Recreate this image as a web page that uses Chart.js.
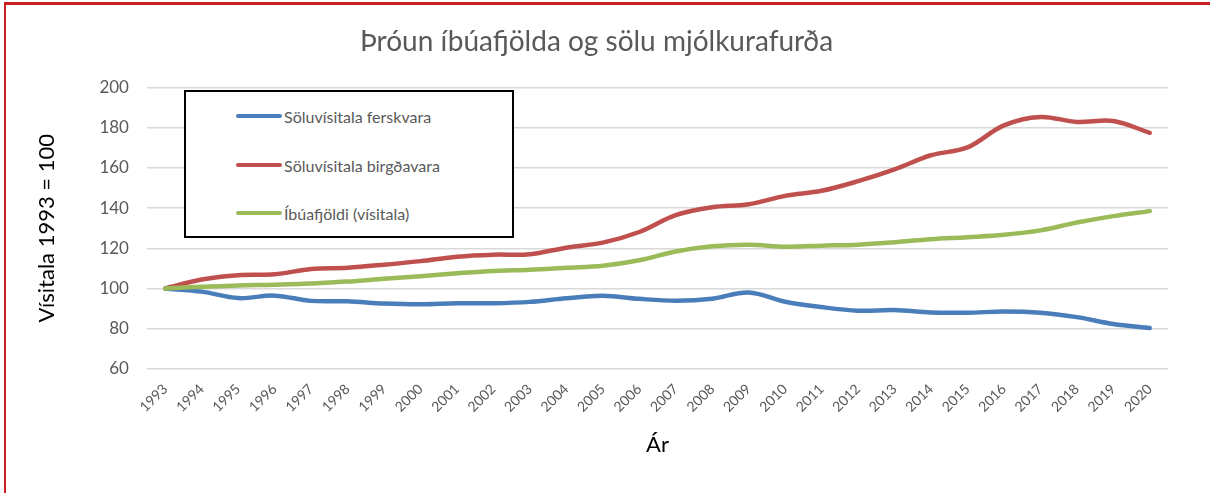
<!DOCTYPE html>
<html>
<head>
<meta charset="utf-8">
<script src="https://cdn.jsdelivr.net/npm/chart.js@4.4.0/dist/chart.umd.min.js"></script>
<style>
  html, body { margin: 0; padding: 0; background: #fff; }
  #wrap { position: relative; width: 1210px; height: 493px; overflow: hidden; }
  #frame { position: absolute; left: 4px; top: 2px; width: 1300px; height: 600px;
           border-top: 3px solid #cc1f1f; border-left: 2px solid #cc1f1f; pointer-events: none; }
  #legend { position: absolute; left: 184px; top: 90px; width: 326px; height: 144px;
            border: 2px solid #000; background: #fff; font-family: Lato, sans-serif; }
  .item { position: absolute; left: 50px; height: 20px; display: flex; align-items: center; }
  .swatch { width: 46px; height: 4px; border-radius: 2px; margin-right: 2px; }
  .item span { font-size: 16px; color: #595959; white-space: nowrap; }
</style>
</head>
<body>
<div id="wrap">
  <canvas id="chart" width="1210" height="493"></canvas>
  <div id="legend"></div>
  <div id="frame"></div>
</div>
<script>
const years = ['1993', '1994', '1995', '1996', '1997', '1998', '1999', '2000', '2001', '2002',
               '2003', '2004', '2005', '2006', '2007', '2008', '2009', '2010', '2011', '2012',
               '2013', '2014', '2015', '2016', '2017', '2018', '2019', '2020'];

// Söluvísitala ferskvara
const ferskvara = [100, 98.4, 95.2, 96.4, 93.8, 93.6, 92.5, 92.1, 92.6, 92.6,
                   93.3, 95.1, 96.3, 94.8, 93.9, 94.9, 98.0, 93.4, 90.7, 88.9,
                   89.2, 88.0, 87.9, 88.5, 87.9, 85.7, 82.3, 80.3];

// Söluvísitala birgðavara
const birgdavara = [100, 104.4, 106.6, 107.0, 109.7, 110.3, 111.8, 113.6, 115.8, 116.8,
                    117.0, 120.3, 122.8, 128.1, 136.5, 140.4, 141.9, 146.1, 148.6, 153.4,
                    159.3, 166.3, 170.2, 181.2, 185.4, 182.9, 183.4, 177.5];

// Íbúafjöldi (vísitala)
const ibuafjoldi = [100, 100.8, 101.5, 101.8, 102.5, 103.4, 104.8, 106.1, 107.5, 108.7,
                    109.3, 110.3, 111.3, 114.0, 118.4, 121.0, 121.8, 120.8, 121.3, 121.8,
                    123.0, 124.5, 125.5, 126.7, 128.9, 132.8, 136.0, 138.5];

const seriesLabels = ['Söluvísitala ferskvara', 'Söluvísitala birgðavara', 'Íbúafjöldi (vísitala)'];
const seriesColors = ['#4a7ebb', '#c0504d', '#9bbb59'];
const yTicks = [60, 80, 100, 120, 140, 160, 180, 200];

const grey = '#595959';

function line(i, values, order) {
    return {
        label: seriesLabels[i],
        data: values,
        borderColor: seriesColors[i],
        backgroundColor: seriesColors[i],
        borderWidth: 4.5,
        pointRadius: 0,
        tension: 0.35,
        borderCapStyle: 'round',
        order: order
    };
}

const chart = new Chart(document.getElementById('chart').getContext('2d'), {
    type: 'line',
    data: {
        labels: years,
        datasets: [
            line(0, ferskvara, 2),
            line(1, birgdavara, 1),
            line(2, ibuafjoldi, 0)
        ]
    },
    options: {
        responsive: false,
        animation: false,
        layout: { padding: { left: 25, right: 42, top: 25, bottom: 35 } },
        plugins: {
            legend: { display: false },
            tooltip: { enabled: false },
            title: {
                display: true,
                text: 'Þróun íbúafjölda og sölu mjólkurafurða',
                color: grey,
                font: { family: 'Lato', size: 28, weight: 'normal' },
                padding: { top: 0, bottom: 29 }
            }
        },
        scales: {
            x: {
                offset: true,
                grid: { display: false },
                border: { display: false },
                ticks: {
                    color: grey,
                    font: { family: 'Lato', size: 14 },
                    minRotation: 45,
                    maxRotation: 45,
                    padding: 4
                },
                title: {
                    display: true,
                    text: 'Ár',
                    color: '#000',
                    font: { family: 'Lato', size: 22 },
                    padding: { top: 12, bottom: 0 }
                }
            },
            y: {
                min: yTicks[0],
                max: yTicks[yTicks.length - 1],
                afterBuildTicks: function (axis) {
                    axis.ticks = yTicks.map(function (v) { return { value: v }; });
                },
                grid: { color: '#d9d9d9', lineWidth: 1.5, drawTicks: false },
                border: { display: false },
                ticks: {
                    color: grey,
                    font: { family: 'Lato', size: 17 },
                    padding: 18
                },
                title: {
                    display: true,
                    text: 'Vísitala 1993 = 100',
                    color: '#000',
                    font: { family: 'Lato', size: 22 },
                    padding: { top: 9, bottom: 21 }
                }
            }
        }
    }
});

// legend box inside the plot, built from the dataset labels and colours
const legendEl = document.getElementById('legend');
const itemTops = [14, 63, 111];
seriesLabels.forEach(function (label, i) {
    const item = document.createElement('div');
    item.className = 'item';
    item.style.top = itemTops[i] + 'px';
    item.innerHTML = '<div class="swatch" style="background:' + seriesColors[i] + '"></div><span>' + label + '</span>';
    legendEl.appendChild(item);
});
</script>
</body>
</html>
